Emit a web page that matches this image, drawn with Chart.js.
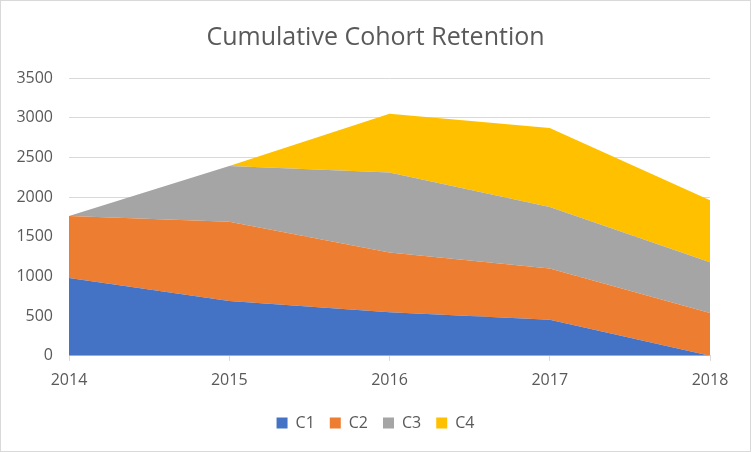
<!DOCTYPE html>
<html>
<head>
<meta charset="utf-8">
<script src="https://cdn.jsdelivr.net/npm/chart.js@4"></script>
<style>
  html, body { margin: 0; padding: 0; background: #fff; }
  #wrap { width: 751px; height: 452px; box-sizing: border-box; border: 1px solid #d9d9d9; }
</style>
</head>
<body>
<div id="wrap"><canvas id="retentionChart" width="749" height="450"></canvas></div>
<script>
const years = ['2014', '2015', '2016', '2017', '2018'];
const c1 = [980, 690, 550, 455, 0];
const c2 = [780, 1000, 750, 645, 540];
const c3 = [0, 700, 1010, 775, 640];
const c4 = [0, 0, 740, 995, 780];
const yTicks = [0, 500, 1000, 1500, 2000, 2500, 3000, 3500];

const fontFamily = '"Open Sans", "Noto Sans", sans-serif';
const textColor = '#595959';

function area(label, data, color, fill) {
  return {
    label: label,
    data: data,
    backgroundColor: color,
    borderColor: color,
    borderWidth: 0,
    pointRadius: 0,
    fill: fill,
    tension: 0
  };
}

new Chart(document.getElementById('retentionChart'), {
  type: 'line',
  data: {
    labels: years,
    datasets: [
      area('C1', c1, '#4472c4', 'origin'),
      area('C2', c2, '#ed7d31', '-1'),
      area('C3', c3, '#a5a5a5', '-1'),
      area('C4', c4, '#ffc000', '-1')
    ]
  },
  options: {
    responsive: false,
    animation: false,
    layout: { padding: { left: 0, right: 0, top: 16, bottom: 10 } },
    plugins: {
      title: {
        display: true,
        text: 'Cumulative Cohort Retention',
        color: textColor,
        font: { family: fontFamily, size: 25, weight: 'normal' },
        padding: { top: 6, bottom: 25 }
      },
      legend: {
        position: 'bottom',
        labels: {
          color: textColor,
          font: { family: fontFamily, size: 16 },
          usePointStyle: true,
          pointStyle: 'rect',
          boxWidth: 11,
          boxHeight: 11,
          padding: 15
        }
      },
      tooltip: { enabled: false }
    },
    scales: {
      x: {
        offset: false,
        afterFit: s => { s.paddingLeft = 0; s.paddingRight = 40; },
        grid: { drawOnChartArea: false, drawTicks: true, tickLength: 5, color: '#d9d9d9' },
        border: { color: '#d9d9d9' },
        ticks: { color: textColor, font: { family: fontFamily, size: 16 }, padding: 10, maxRotation: 0 }
      },
      y: {
        stacked: true,
        min: 0,
        max: 3500,
        afterBuildTicks: axis => { axis.ticks = yTicks.map(v => ({ value: v })); },
        afterFit: s => { s.width = 68; },
        grid: { color: '#d9d9d9', drawTicks: false },
        border: { display: false },
        ticks: { color: textColor, font: { family: fontFamily, size: 16 }, padding: 16, callback: v => String(v) }
      }
    }
  }
});
</script>
</body>
</html>
